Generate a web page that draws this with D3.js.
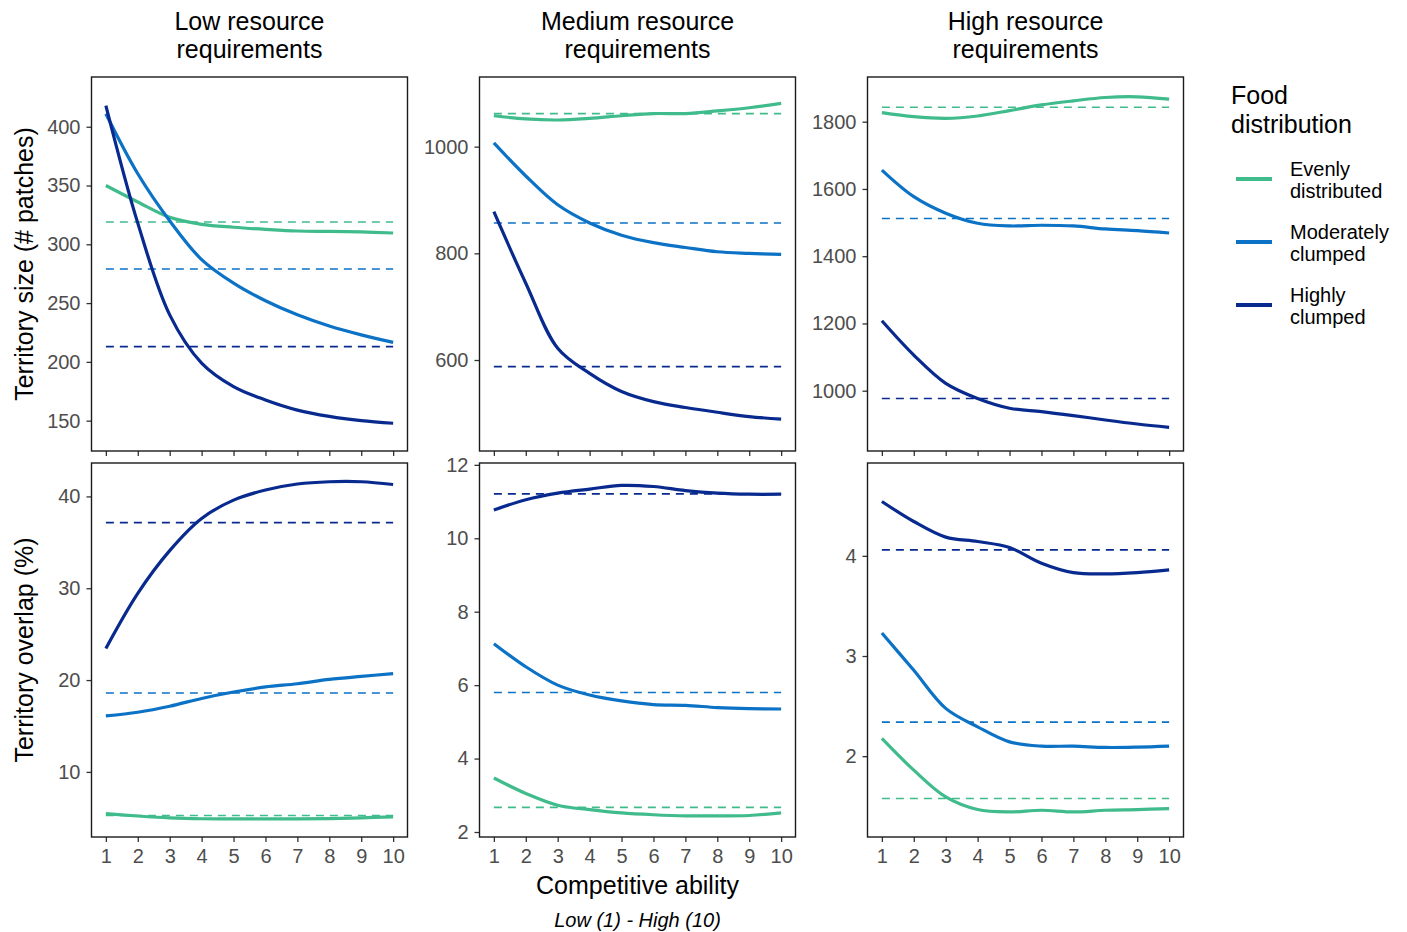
<!DOCTYPE html>
<html>
<head>
<meta charset="utf-8">
<script src="https://cdn.jsdelivr.net/npm/d3@7"></script>
<style>
  body { margin: 0; background: #fff; }
  svg { font-family: "Liberation Sans", Arial, sans-serif; }
</style>
</head>
<body>
<div id="chart"></div>
<script>
// Competitive ability levels and facet labels
const ability = [1, 2, 3, 4, 5, 6, 7, 8, 9, 10];
const resources = ["Low resource\nrequirements", "Medium resource\nrequirements", "High resource\nrequirements"];
const distributions = ["Evenly\ndistributed", "Moderately\nclumped", "Highly\nclumped"];
const colors = ["#40bb8c", "#0b72c6", "#08298e"];

// Territory size (# patches), per resource level, per distribution
const sizeLow = [
  [350, 336, 323, 317, 314.5, 312.7, 311.3, 311, 310.5, 309.6],
  [411, 360, 320, 287, 267, 252, 240, 230.5, 223, 216.6],
  [418, 318, 240, 199, 179, 167.6, 159, 153.6, 150, 147.8]
];
const sizeMed = [
  [1058, 1052, 1050, 1053, 1058, 1062, 1062, 1067, 1073, 1081],
  [1007, 945, 891, 857, 834, 820, 811, 803, 800, 798],
  [878, 744, 622, 575, 541, 522, 511, 502, 494, 489]
];
const sizeHigh = [
  [1827, 1815, 1810, 1817, 1833, 1850, 1862, 1872, 1874, 1867],
  [1656, 1577, 1528, 1498, 1490, 1492, 1490, 1481, 1476, 1469],
  [1208, 1106, 1022, 977, 948, 938, 926, 913, 901, 891]
];
// Territory overlap (%)
const overlapLow = [
  [5.45, 5.2, 5.0, 4.9, 4.88, 4.88, 4.88, 4.92, 5.0, 5.1],
  [16.1, 16.5, 17.15, 18.0, 18.7, 19.25, 19.6, 20.07, 20.4, 20.7],
  [23.45, 29.45, 34.1, 37.6, 39.6, 40.7, 41.35, 41.6, 41.6, 41.3]
];
const overlapMed = [
  [3.47, 3.05, 2.73, 2.61, 2.52, 2.47, 2.44, 2.44, 2.45, 2.52],
  [7.13, 6.5, 6.0, 5.73, 5.57, 5.47, 5.45, 5.39, 5.36, 5.35],
  [10.77, 11.05, 11.23, 11.34, 11.44, 11.41, 11.3, 11.23, 11.2, 11.2]
];
const overlapHigh = [
  [2.177, 1.86, 1.593, 1.467, 1.443, 1.46, 1.443, 1.46, 1.467, 1.477],
  [3.23, 2.857, 2.477, 2.293, 2.143, 2.1, 2.1, 2.087, 2.09, 2.1],
  [4.543, 4.343, 4.187, 4.143, 4.083, 3.927, 3.833, 3.82, 3.833, 3.86]
];
// Reference (mean) dashed lines
const sizeMeans = [[319, 279, 213], [1062, 857, 587.5], [1843, 1512, 977]];
const overlapMeans = [[5.25, 18.6, 37.15], [2.67, 5.8, 11.21], [1.577, 2.34, 4.06]];

const sizeTicks = [[150, 200, 250, 300, 350, 400], [600, 800, 1000], [1000, 1200, 1400, 1600, 1800]];
const overlapTicks = [[10, 20, 30, 40], [2, 4, 6, 8, 10, 12], [2, 3, 4]];

const rows = [
  { title: "Territory size (# patches)", series: [sizeLow, sizeMed, sizeHigh], means: sizeMeans, ticks: sizeTicks,
    domains: [[124.2, 442.3], [429.4, 1130.6], [820.7, 1932.9]] },
  { title: "Territory overlap (%)", series: [overlapLow, overlapMed, overlapHigh], means: overlapMeans, ticks: overlapTicks,
    domains: [[2.91, 43.64], [1.864, 12.05], [1.193, 4.927]] }
];

const width = 1407, height = 932;
const panelW = 316, panelH = 374;
const panelLeft = [91.5, 479.5, 867.5];
const panelTop = [77, 463];

const svg = d3.select("#chart").append("svg")
  .attr("width", width)
  .attr("height", height);

const x = d3.scaleLinear().domain([0.55, 10.45]).range([0, panelW]);

// facet strip titles
resources.forEach((r, c) => {
  svg.append("text")
    .attr("x", panelLeft[c] + panelW / 2)
    .attr("y", 30)
    .attr("text-anchor", "middle")
    .attr("font-size", 25)
    .attr("fill", "#000")
    .selectAll("tspan")
    .data(r.split("\n"))
    .join("tspan")
    .attr("x", panelLeft[c] + panelW / 2)
    .attr("dy", (d, i) => i ? 28 : 0)
    .text(d => d);
});

rows.forEach((row, ri) => {
  // row y axis title
  const cy = panelTop[ri] + panelH / 2;
  svg.append("text")
    .attr("transform", `translate(33,${cy}) rotate(-90)`)
    .attr("text-anchor", "middle")
    .attr("font-size", 25)
    .attr("fill", "#000")
    .text(row.title);

  row.series.forEach((panel, c) => {
    const g = svg.append("g")
      .attr("transform", `translate(${panelLeft[c]},${panelTop[ri]})`);
    const y = d3.scaleLinear().domain(row.domains[c]).range([panelH, 0]);

    // y axis
    const yAxis = g.append("g")
      .call(d3.axisLeft(y).tickValues(row.ticks[c]).tickSize(5).tickPadding(6).tickFormat(d3.format("d")));
    yAxis.select(".domain").remove();
    yAxis.selectAll("line").attr("stroke", "#333").attr("stroke-width", 1.3);
    yAxis.selectAll("text").attr("font-size", 20).attr("fill", "#4d4d4d")
      .attr("font-family", "Liberation Sans, Arial, sans-serif");

    // x axis
    const xAxis = g.append("g")
      .attr("transform", `translate(0,${panelH})`)
      .call(d3.axisBottom(x).tickValues(ability).tickSize(5).tickPadding(7));
    xAxis.select(".domain").remove();
    xAxis.selectAll("line").attr("stroke", "#333").attr("stroke-width", 1.3);
    xAxis.selectAll("text").attr("font-size", 20).attr("fill", "#4d4d4d")
      .attr("font-family", "Liberation Sans, Arial, sans-serif")
      .attr("opacity", ri === 1 ? 1 : 0);

    // dashed mean lines
    row.means[c].forEach((m, k) => {
      g.append("line")
        .attr("x1", x(1)).attr("x2", x(10))
        .attr("y1", y(m)).attr("y2", y(m))
        .attr("stroke", colors[k])
        .attr("stroke-width", 1.6)
        .attr("stroke-dasharray", "8,6");
    });

    // smoothed curves
    const line = d3.line()
      .x((d, i) => x(ability[i]))
      .y(d => y(d))
      .curve(d3.curveCatmullRom.alpha(0.5));
    panel.forEach((vals, k) => {
      g.append("path")
        .attr("d", line(vals))
        .attr("fill", "none")
        .attr("stroke", colors[k])
        .attr("stroke-width", 3.2)
        .attr("stroke-linecap", "butt");
    });

    // panel border
    g.append("rect")
      .attr("width", panelW).attr("height", panelH)
      .attr("fill", "none")
      .attr("stroke", "#1a1a1a")
      .attr("stroke-width", 1.4);
  });
});

// x axis titles
svg.append("text")
  .attr("x", panelLeft[1] + panelW / 2)
  .attr("y", 894)
  .attr("text-anchor", "middle")
  .attr("font-size", 25)
  .attr("fill", "#000")
  .text("Competitive ability");
svg.append("text")
  .attr("x", panelLeft[1] + panelW / 2)
  .attr("y", 927)
  .attr("text-anchor", "middle")
  .attr("font-size", 20)
  .attr("font-style", "italic")
  .attr("fill", "#000")
  .text("Low (1) - High (10)");

// legend
const legend = svg.append("g").attr("transform", "translate(1231,0)");
legend.append("text")
  .attr("y", 104)
  .attr("font-size", 25)
  .attr("fill", "#000")
  .selectAll("tspan")
  .data(["Food", "distribution"])
  .join("tspan")
  .attr("x", 0)
  .attr("dy", (d, i) => i ? 28.5 : 0)
  .text(d => d);

distributions.forEach((d, k) => {
  const ky = 179 + k * 63;
  legend.append("line")
    .attr("x1", 5).attr("x2", 41)
    .attr("y1", ky).attr("y2", ky)
    .attr("stroke", colors[k])
    .attr("stroke-width", 4);
  legend.append("text")
    .attr("y", ky - 3)
    .attr("font-size", 20)
    .attr("fill", "#000")
    .selectAll("tspan")
    .data(d.split("\n"))
    .join("tspan")
    .attr("x", 59)
    .attr("dy", (t, i) => i ? 22 : 0)
    .text(t => t);
});
</script>
</body>
</html>
